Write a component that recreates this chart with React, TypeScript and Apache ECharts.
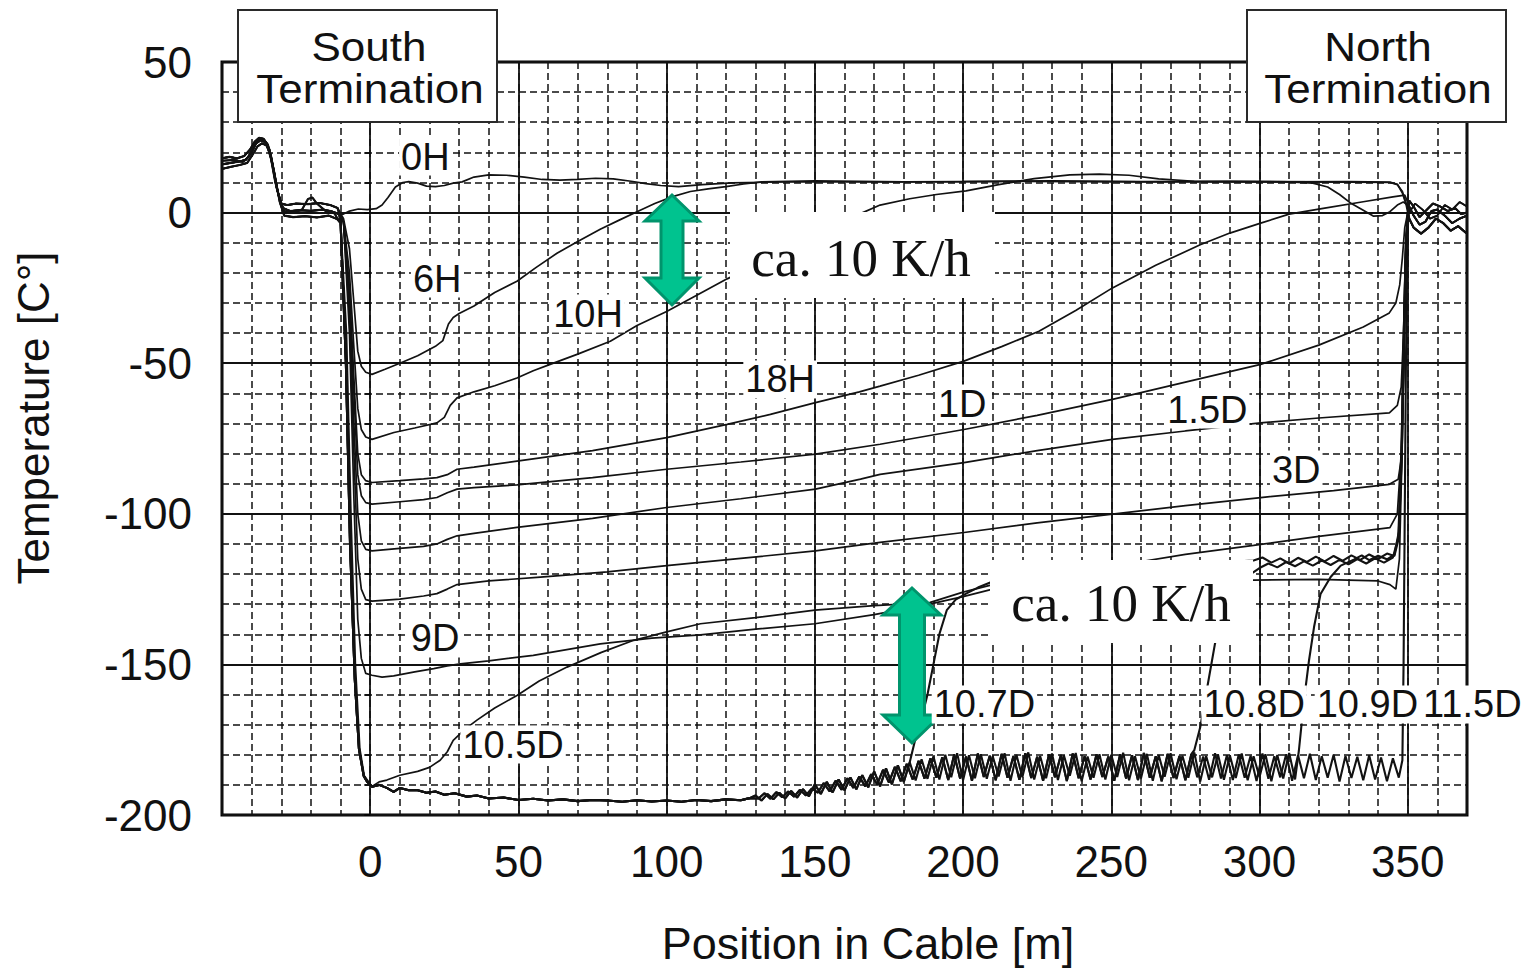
import React, { useEffect, useRef } from 'react';
import * as echarts from 'echarts';

// ---------- axis ticks ----------
const xTickLabels = [0, 50, 100, 150, 200, 250, 300, 350];
const yTickLabels = [50, 0, -50, -100, -150, -200];

// ---------- termination bundles (position m, temperature °C) ----------
const southTermA = [[-50, 16], [-47, 16.5], [-44, 17], [-42, 17.5], [-40, 20], [-38.5, 23], [-37, 24], [-35.5, 23.5], [-34, 21], [-32.5, 14], [-31, 6], [-29.5, 1.5], [-27, 0.5], [-24, 0.8], [-20, 0.6], [-16, 1], [-13, 0.4], [-10.5, -0.5]];
const southTermB = [[-50, 18], [-47.5, 18.5], [-45, 18], [-42.5, 18.8], [-40.5, 21], [-39, 23.5], [-37.5, 24.8], [-36, 24.5], [-34.5, 22.5], [-33, 16], [-31.5, 8], [-30, 3], [-28, 2.5], [-25, 3], [-21, 2.8], [-17, 3.2], [-13.5, 2.5], [-11, 1.5]];
const southTermC = [[-50, 14.5], [-47, 15.2], [-44, 15.8], [-41.5, 16.5], [-39.5, 19.5], [-38, 22], [-36.5, 23], [-35, 22.3], [-33.5, 19], [-32, 11], [-30.5, 3.5], [-29, -1], [-26, -1.5], [-22, -1.2], [-18, -1.6], [-14, -1], [-11.5, -2]];
const southTermD = [[-50, 17.2], [-46, 17.5], [-43, 16.8], [-41, 18.5], [-39.5, 22], [-38, 24.2], [-36.5, 24], [-35, 23], [-33.5, 18], [-32, 10], [-30.5, 4.5], [-29, 0.5], [-26, 0], [-23, 1], [-21, 4.5], [-19.5, 5], [-18, 3], [-15, 0.5], [-12, -0.3], [-10.5, -3]];

const northTermA = [[350.5, 2], [352, -1], [354, -4], [356, -3], [358, 0.5], [360, 1], [362.5, -1], [365, -3.5], [367.5, -2], [370, -1]];
const northTermB = [[350.5, 4], [352, 2], [354, -1.5], [356, 0.5], [358.5, 3], [361, 2], [363.5, 0.5], [366, 1.5], [368, -0.5], [370, 0]];
const northTermC = [[350.5, -2], [352, -5], [354.5, -7], [357, -5], [359.5, -2], [362, -3.5], [364.5, -6], [367, -4.5], [370, -7]];
const northTermD = [[350.5, 0], [352.5, 3], [355, 1], [357.5, -2], [360, -1], [362.5, 2.5], [365, 1], [367.5, 3.5], [370, 2]];

// ---------- cable body profiles ----------
const body0H = [[-9, -0.5], [-7, 0.5], [-4, 1.2], [-1, 1], [2, 1.3], [4, 2.5], [6, 5], [8.5, 8.5], [11, 10], [13, 10.3], [16, 9.8], [19, 8.8], [22, 8.6], [25, 9], [28, 9.8], [31, 10.2], [35, 11.8], [40, 12.5], [46, 12.4], [52, 11.8], [58, 11], [64, 10.8], [70, 11], [76, 11.4], [82, 11.2], [88, 10.4], [93, 9.6], [98, 9], [104, 8.6], [112, 9.3], [122, 9.9], [140, 10.2], [170, 10.2], [200, 10.3], [230, 10.5], [260, 10.3], [290, 10.4], [310, 10.2], [318, 9.8], [323, 8.5], [327, 6], [331, 3], [335, 0.8], [338.5, -1.2], [341.5, -1], [344, 0.3], [346.5, 2.5], [348.5, 3.5], [350, 2.5]];
const body6H = [[-9, -2], [-7, -12], [-5.5, -30], [-4.2, -46], [-3, -51], [-1.5, -53], [0.6, -53.7], [5, -52], [10, -50], [16, -47.5], [22, -44.4], [24.5, -42.5], [26.4, -37], [28, -34.8], [30, -33.5], [35, -31], [42, -26.5], [49.5, -22.8], [56, -18.2], [63, -13.5], [70, -9.6], [77.6, -5.5], [84, -2.5], [90, 0.3], [96, 3], [102, 5.3], [108, 7], [114, 7.9], [120, 8.6], [126, 9.5], [132, 10.2], [150, 10.5], [180, 10.2], [220, 10.4], [260, 10.2], [300, 10.3], [330, 10.1], [344, 10], [346.5, 9.3], [348.2, 7], [349.5, 3], [350.2, 0.5]];
const body10H = [[-9, -3], [-7, -20], [-5.5, -45], [-4.2, -65], [-3, -72], [-1.5, -74.5], [0.6, -75.3], [8, -73], [15, -71.5], [22.5, -69.8], [25, -68], [27, -64], [29.3, -61.5], [35, -59.5], [42, -57.5], [49.5, -54.9], [55, -52.5], [60.7, -50.4], [70, -47], [81, -42.7], [90, -37.5], [100, -32.8], [110, -27.5], [120.4, -22], [130, -17.5], [140, -12.5], [150, -7.8], [158, -4], [165, -0.5], [172, 2.5], [182, 4.6], [191, 6], [201, 7.2], [212, 9.3], [224, 11.3], [236, 12.5], [246, 12.8], [256, 12.4], [266, 11.2], [278, 10.4], [300, 10.2], [330, 10.3], [344, 10.1], [346.5, 9.4], [348.2, 6.5], [349.5, 2.5], [350.2, -1]];
const body18H = [[-9, -3], [-7, -25], [-5.5, -55], [-4.2, -80], [-3, -87], [-1.5, -89], [0.6, -89.6], [10, -89], [18, -88.4], [22.5, -88], [26, -87], [29.3, -85.2], [35, -84.5], [49.5, -82.5], [75, -79], [100, -74.7], [120.4, -70.3], [135, -67], [150.2, -63.1], [165, -59.5], [172, -57.6], [185, -54], [200.3, -49.3], [213, -44.5], [225.6, -39.4], [238, -32.5], [250.4, -25], [265, -17.5], [280, -10.7], [290, -6.8], [300.4, -3.5], [310, -0.5], [322, 1.5], [335, 3.6], [345, 5.2], [349, 5.8], [350.2, 3]];
const body1D = [[-9, -3], [-7, -28], [-5.5, -60], [-4.2, -87], [-3, -94], [-1.5, -96.3], [0.6, -96.8], [10, -96], [18, -95.3], [22.5, -94.6], [26, -93], [29.3, -91.8], [35, -91.3], [49.5, -90.4], [75, -88], [100, -85.2], [125, -82.8], [150.2, -80.2], [172, -76.9], [200.3, -72], [225, -67.3], [250.4, -62], [275, -56.3], [300.4, -50.4], [320, -44], [335, -38], [343.8, -33.3], [346, -30], [347.3, -24], [348.2, -15], [349, -5], [350, 0]];
const body1_5D = [[-9, -3], [-7, -30], [-5.5, -70], [-4.2, -100], [-3, -109], [-1.5, -111.8], [0.6, -112.3], [10, -111.5], [18, -110.8], [22.5, -110], [26, -108.5], [29.3, -107.3], [35, -106.5], [49.5, -104.5], [75, -101.5], [100, -97.9], [125, -95], [150.2, -91.8], [165.4, -88.5], [172, -86.9], [200.3, -83], [225, -79], [250.4, -75.3], [275, -72.5], [300.4, -69.8], [320, -68.2], [343.8, -66.5], [346.5, -64], [347.8, -58], [348.6, -40], [349.3, -12], [350, 0]];
const body3D = [[-9, -3], [-7, -35], [-5.5, -80], [-4.2, -115], [-3, -125], [-1.5, -128.5], [0.6, -129], [10, -128.3], [18, -127.3], [22.5, -126.5], [26, -125], [29.3, -123.5], [40, -122.3], [57.4, -121], [80, -119.3], [100, -117.2], [125, -114.8], [150.2, -112.3], [172, -109.5], [200.3, -106.2], [225, -103], [250.4, -100.1], [275, -97.3], [300.4, -94.6], [325, -92.3], [343.8, -90.2], [346.8, -88.5], [347.8, -82], [348.6, -55], [349.3, -15], [350, 0]];
const body9D = [[-9, -3], [-7, -40], [-5.5, -95], [-4.2, -135], [-3, -148], [-1.5, -153], [0.6, -153.6], [4, -154.2], [7.9, -153.8], [15, -152.5], [21.4, -151.4], [26, -150.5], [30.4, -149.8], [40, -148.8], [55, -147], [77.6, -143.2], [95, -141.3], [111.4, -140.2], [130, -138.3], [150, -136.5], [170, -133.5], [188.7, -130], [200, -127.5], [210, -125], [230, -121], [250, -117.5], [275, -113.5], [298, -110.5], [320, -107.5], [344, -104.6], [346.5, -100], [347.8, -80], [348.6, -40], [349.3, -10], [350, 0]];
const body10_5D = [[-10, -3], [-8, -40], [-6.5, -100], [-5, -150], [-3.5, -178], [-2, -187], [0.6, -190.5], [3, -189], [5.6, -188.4], [10, -186.8], [16, -185.5], [20, -184.2], [23.6, -181.8], [26, -179], [28, -175.2], [32, -171.5], [36, -168.5], [42, -164.5], [49.5, -160.3], [57, -155.5], [66.4, -150.9], [78, -146], [88.9, -142], [100, -139.2], [111.4, -136.5], [130, -134.5], [150, -132], [170, -130.5], [188.7, -129.5], [200, -126], [210, -123.5], [230, -122], [260, -121.5], [298, -122], [320, -121.8], [340, -122.3], [344, -123.5], [346, -125], [347.2, -115], [348.1, -80], [348.9, -35], [349.6, -8], [350.2, 0]];

// common cold floor (LN2 cooled section)
const floorDrop = [[-10, -3], [-8.2, -50], [-6.8, -110], [-5.2, -155], [-3.8, -178], [-2.2, -187], [-1, -189]];
const floorSmooth = [[0.6, -190.6], [3, -190], [5.6, -191], [7.9, -192.3], [10, -191], [13, -191.8], [15.7, -191.7], [19, -192.6], [22, -192.2], [25, -193.3], [28.5, -192.8], [32.6, -193.9], [36, -193.5], [40, -194.5], [45, -194.2], [50, -195], [55, -194.6], [60, -195.2], [65, -194.8], [70, -195.4], [75, -195], [80, -195.2], [85, -195.6], [90, -195.1], [95, -195.5], [100, -195.2], [105, -195.6], [110, -195], [115, -195.4], [120, -194.8], [125, -195.1], [128, -194.4]];
// sawtooth floor readings every 2 m (A from 130 m, B from 131 m)
const floorAStart = 130;
const floorATemps = [
  -193.5, -195.2, -193, -194.8, -192.6, -194.5, -192, -194.2, -191.4, -193.8,
  -189.8, -193, -189, -192.5, -188.2, -191.8, -187.5, -191.5, -186.8, -190.8,
  -185.5, -190.5, -184.5, -189.8, -183.5, -189, -182.5, -188.5, -181.5, -188,
  -180.5, -188.2, -180, -187.5, -179.5, -188.5, -180.2, -187.8, -179.8, -188,
  -180.5, -187.2, -179.5, -188.6, -180, -187.5, -179.2, -188.2, -180.4, -187.8,
  -179.6, -188.4, -180.2, -187, -179.4, -188.8, -180.6, -187.6, -179.8, -188.2,
  -180, -187.4, -179.3, -188.5, -180.5, -187.9, -179.7, -188.6, -180.1, -187.3,
  -179.5, -188.1, -180.3, -187.6, -179.2, -188.9, -180.4, -187.5, -179.9, -188.3,
  -180.2, -187.7, -179.6, -188.5, -180.5, -187.4, -179.8, -188.8, -180.1, -187.9,
  -179.4, -188.2, -180.6, -187.5, -179.9, -188.7, -180.3, -187.8, -179.7, -188.4,
  -180.5, -187.9, -180.1, -188.6, -180.8, -188.1, -180.4, -188.9, -181, -187.5,
];
const floorBStart = 131;
const floorBTemps = [
  -194.5, -192.8, -194.6, -192.4, -194.1, -192.2, -193.9, -191.6, -193.5, -191.2,
  -192.6, -189.4, -192.2, -188.6, -191.6, -187.8, -191, -187.2, -190.5, -186.5,
  -189.8, -185, -189.2, -184, -188.8, -183, -188.2, -182, -187.9, -181.2,
  -187.6, -180.8, -188.4, -179.9, -187.9, -180.6, -188.6, -179.6, -187.4, -180.3,
  -188.5, -179.7, -187.6, -180.4, -188.3, -179.5, -187.7, -180.7, -188.6, -179.8,
  -187.5, -180.1, -188.7, -179.6, -187.8, -180.5, -188.2, -179.9, -187.4, -180.6,
  -188.6, -179.8, -187.9, -180.2, -188.4, -179.4, -187.6, -180.5, -188.8, -179.7,
  -187.7, -180.4, -188.5, -179.8, -187.5, -180.6, -188.3, -179.5, -187.9, -180.2,
  -188.4, -179.9, -187.6, -180.3, -188.7, -179.6, -188, -180.5, -187.5, -179.8,
  -188.6, -180.2, -187.8, -179.7, -188.4, -180.5, -187.6, -180, -188.9, -180.4,
  -187.7, -180.7, -188.5, -180.2, -188.2, -180.9, -188.8, -181.2, -187.6,
];
const floorStep = 2;

// warm-up fronts leaving the floor
const rise10_7D = [[183.6, -176], [186, -168], [188, -160], [190, -150], [192, -140], [194.5, -132], [197.5, -128.5], [201, -126.5], [205, -124.5], [210, -122.5], [230, -120], [260, -117.5], [298, -115.5], [301, -114.5], [304, -116.2], [307, -114.8], [310, -116.5], [313, -114.6], [316, -116], [319, -114.2], [322, -115.8], [325, -114], [328, -115.6], [331, -113.8], [334, -115.3], [337, -113.5], [340, -115], [343, -113.2], [345.5, -114], [347, -108], [348, -80], [348.8, -40], [349.5, -10], [350.2, 0]];
const rise10_8D = [[278, -178.5], [280, -170.9], [282.4, -157.5], [285, -143], [288, -135], [291, -128], [294, -123.5], [297, -120], [300, -118], [303, -116.5], [306, -117.8], [309, -116], [312, -117.4], [315, -115.8], [318, -117.2], [321, -115.5], [324, -117], [327, -115.3], [330, -116.8], [333, -115], [336, -116.5], [339, -114.8], [342, -116.2], [345, -114.5], [346.8, -108], [347.9, -80], [348.7, -40], [349.4, -10], [350.1, 0]];
const rise10_9D = [[313.3, -178.5], [315, -162], [316.7, -148.7], [318.4, -137.6], [320.6, -126.6], [324, -121], [327.4, -117.2], [331.8, -115.2], [334.5, -113.8], [337, -115.4], [340, -113.9], [343, -115.1], [345.5, -113.6], [347, -106], [348, -80], [348.8, -40], [349.5, -10], [350.2, 0]];
const rise11_5D = [[348.2, -181.8], [348.6, -150], [349, -100], [349.4, -50], [349.8, -15], [350.2, 0]];

// curve labels: [text, position m, temperature °C]
const curveLabels: [string, number, number][] = [
  ['0H', 18.6, 18.6],
  ['6H', 22.6, -21.9],
  ['10H', 73.5, -33.5],
  ['18H', 138.3, -55.4],
  ['1D', 199.7, -63.4],
  ['1.5D', 282.4, -65.4],
  ['3D', 312.4, -85.3],
  ['9D', 21.9, -141.4],
  ['10.5D', 48.2, -176.6],
  ['10.7D', 207.2, -163.3],
  ['10.8D', 298.2, -163.3],
  ['10.9D', 336.4, -163.3],
  ['11.5D', 371.8, -163.3],
];

const floorCurves = ['10.7D', '10.8D', '10.9D', '11.5D'];

const SANS = '"Liberation Sans", Arial, Helvetica, sans-serif';
const SERIF = '"Liberation Serif", "Times New Roman", serif';

function floorPairs(start: number, temps: number[]) {
  return temps.map((t, i) => [start + i * floorStep, t]);
}

function buildCurves() {
  const fA = floorPairs(floorAStart, floorATemps);
  const fB = floorPairs(floorBStart, floorBTemps);
  const floorUpTo = (f: number[][], lim: number) => f.filter((p) => p[0] <= lim);
  return [
    { name: '0H', data: [...southTermA, ...body0H, ...northTermA] },
    { name: '6H', data: [...southTermB, ...body6H, ...northTermB] },
    { name: '10H', data: [...southTermC, ...body10H, ...northTermC] },
    { name: '18H', data: [...southTermA, ...body18H, ...northTermD] },
    { name: '1D', data: [...southTermB, ...body1D, ...northTermA] },
    { name: '1.5D', data: [...southTermC, ...body1_5D, ...northTermB] },
    { name: '3D', data: [...southTermA, ...body3D, ...northTermC] },
    { name: '9D', data: [...southTermB, ...body9D, ...northTermD] },
    { name: '10.5D', data: [...southTermD, ...body10_5D, ...northTermA] },
    { name: '10.7D', data: [...southTermA, ...floorDrop, ...floorSmooth, ...floorUpTo(fA, 182), ...rise10_7D, ...northTermB] },
    { name: '10.8D', data: [...southTermB, ...floorDrop, ...floorSmooth, ...floorUpTo(fB, 277), ...rise10_8D, ...northTermC] },
    { name: '10.9D', data: [...southTermC, ...floorDrop, ...floorSmooth, ...floorUpTo(fA, 312), ...rise10_9D, ...northTermA] },
    { name: '11.5D', data: [...southTermD, ...floorDrop, ...floorSmooth, ...floorUpTo(fB, 347), ...rise11_5D, ...northTermC] },
  ];
}

export default function App() {
  const ref = useRef<HTMLDivElement>(null);

  useEffect(() => {
    if (!ref.current) return;
    const chart = echarts.init(ref.current, null, { renderer: 'svg' });
    const curves = buildCurves();

    const dashed = { color: '#111', width: 1.5, type: [7, 4] as any };
    const solid = { color: '#111', width: 1.8, type: 'solid' as any };

    chart.setOption({
      animation: false,
      backgroundColor: '#ffffff',
      grid: { left: 222, right: 72, top: 62, bottom: 154, show: true, borderColor: '#000', borderWidth: 3, backgroundColor: 'transparent' },
      xAxis: [
        {
          type: 'value', min: -50, max: 370, interval: 10, position: 'bottom',
          axisLine: { show: false }, axisTick: { show: false }, axisLabel: { show: false },
          splitLine: { show: true, lineStyle: dashed },
        },
        {
          type: 'value', min: -50, max: 370, interval: 50, position: 'bottom',
          axisLine: { show: false }, axisTick: { show: false },
          axisLabel: {
            show: true, fontSize: 44, color: '#111', fontFamily: SANS, margin: 24,
            formatter: (v: number) => (xTickLabels.includes(v) ? String(v) : ''),
          },
          splitLine: { show: true, lineStyle: solid },
        },
      ],
      yAxis: [
        {
          type: 'value', min: -200, max: 50, interval: 10, position: 'left',
          axisLine: { show: false },
          axisTick: { show: true, inside: false, length: 6, lineStyle: { color: '#000', width: 1.5 } },
          axisLabel: { show: false },
          splitLine: { show: true, lineStyle: dashed },
        },
        {
          type: 'value', min: -200, max: 50, interval: 50, position: 'left',
          axisLine: { show: false }, axisTick: { show: false },
          axisLabel: {
            show: true, fontSize: 44, color: '#111', fontFamily: SANS, margin: 30,
            formatter: (v: number) => (yTickLabels.includes(v) ? String(v) : ''),
          },
          splitLine: { show: true, lineStyle: solid },
        },
      ],
      series: curves.map((c) => ({
        name: c.name,
        type: 'line',
        xAxisIndex: 0,
        yAxisIndex: 0,
        data: c.data,
        symbol: 'none',
        showSymbol: false,
        clip: true,
        silent: true,
        z: 5,
        lineStyle: { color: '#121212', width: floorCurves.includes(c.name) ? 2.1 : 1.7 },
      })),
    });

    const toPx = (x: number, y: number) => chart.convertToPixel({ gridIndex: 0 }, [x, y]) as number[];

    const textEl = (text: string, x: number, y: number, size: number, family: string, extra: any = {}) => ({
      type: 'text',
      z: 120,
      x, y,
      ...extra,
      style: {
        text,
        font: `${size}px ${family}`,
        fill: '#111',
        textAlign: 'center',
        textVerticalAlign: 'middle',
        align: 'center',
        verticalAlign: 'middle',
        ...(extra.style || {}),
      },
    });

    const arrow = (cx: number, top: number, headBase1: number, headBase2: number, bottom: number, headHalf: number, shaftHalf: number) => ({
      type: 'polygon',
      z: 110,
      shape: {
        points: [
          [cx, top], [cx + headHalf, headBase1], [cx + shaftHalf, headBase1], [cx + shaftHalf, headBase2],
          [cx + headHalf, headBase2], [cx, bottom], [cx - headHalf, headBase2], [cx - shaftHalf, headBase2],
          [cx - shaftHalf, headBase1], [cx - headHalf, headBase1],
        ],
      },
      style: { fill: '#00C38F', stroke: '#00946C', lineWidth: 3, lineJoin: 'miter' },
    });

    const labelEls = curveLabels.map(([t, x, y]) => {
      const p = toPx(x, y);
      return textEl(t, p[0], p[1], 38, SANS, { style: { backgroundColor: '#fff', padding: [0, 2] } });
    });

    const boxText = (t: string, x: number, y: number) => textEl(t, x, y, 40, SANS, { scaleX: 1.1, originX: 0, originY: 0 });

    chart.setOption({
      graphic: [
        // termination boxes
        { type: 'rect', z: 100, shape: { x: 238, y: 10, width: 259, height: 112 }, style: { fill: '#fff', stroke: '#2a2a2a', lineWidth: 2 } },
        boxText('South', 369, 47),
        boxText('Termination', 370, 89),
        { type: 'rect', z: 100, shape: { x: 1247, y: 10, width: 259, height: 112 }, style: { fill: '#fff', stroke: '#2a2a2a', lineWidth: 2 } },
        boxText('North', 1378, 47),
        boxText('Termination', 1378, 89),
        // rate annotations
        { type: 'rect', z: 100, shape: { x: 730, y: 212, width: 265, height: 86 }, style: { fill: '#fff' } },
        textEl('ca. 10 K/h', 861, 258, 53, SERIF),
        { type: 'rect', z: 100, shape: { x: 990, y: 560, width: 263, height: 83 }, style: { fill: '#fff' } },
        textEl('ca. 10 K/h', 1121, 603, 53, SERIF),
        arrow(672, 195, 221, 278, 305, 27, 11),
        arrow(912, 588, 615, 715, 743, 29, 12.5),
        // axis names
        textEl('Position in Cable [m]', 868, 943, 45, SANS),
        textEl('Temperature [C°]', 33, 418, 44, SANS, { rotation: Math.PI / 2 }),
        ...labelEls,
      ],
    });

    return () => chart.dispose();
  }, []);

  return (
    <div
      ref={ref}
      style={{ position: 'absolute', left: 0, top: 0, width: 1539, height: 969, background: '#fff' }}
    />
  );
}
